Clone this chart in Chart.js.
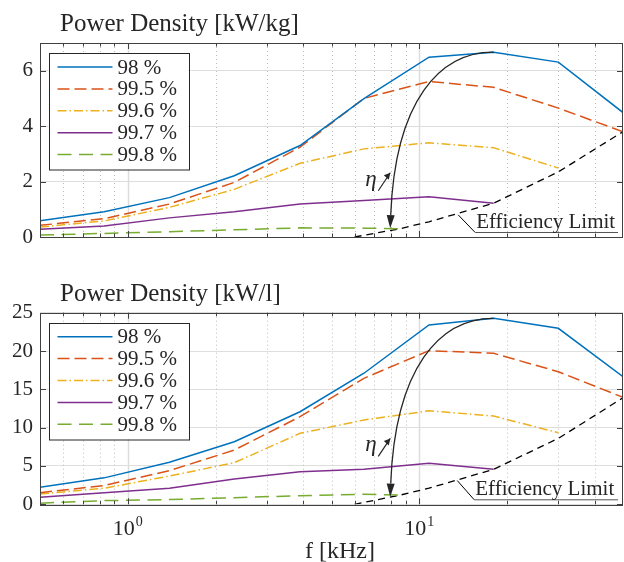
<!DOCTYPE html>
<html>
<head>
<meta charset="utf-8">
<script src="https://cdn.jsdelivr.net/npm/chart.js@4.4.0/dist/chart.umd.min.js"></script>
<style>
  html, body { margin: 0; padding: 0; background: #fff; }
  #wrap { position: relative; width: 624px; height: 562px; }
  #wrap canvas { position: absolute; left: 0; }
  #massChart { top: 0; }
  #volChart { top: 260px; }
</style>
</head>
<body>
<div id="wrap">
  <canvas id="massChart" width="624" height="260"></canvas>
  <canvas id="volChart" width="624" height="302"></canvas>
</div>
<script>
// switching frequency [kHz]
const freq = [0.5, 0.83, 1.39, 2.32, 3.9, 6.46, 10.8, 18, 30, 50];
const freq998 = [0.5, 0.83, 1.39, 2.32, 3.9, 6.46, 8.6];
const limitFreq = [6.0, 8.6, 10.8, 18, 30, 50];
const labels = ['98 %', '99.5 %', '99.6 %', '99.7 %', '99.8 %'];

// power density [kW/kg]
const kg980 = [0.59, 0.91, 1.42, 2.21, 3.30, 4.99, 6.49, 6.67, 6.31, 4.49];
const kg995 = [0.42, 0.66, 1.19, 1.97, 3.24, 5.00, 5.61, 5.40, 4.65, 3.80];
const kg996 = [0.36, 0.58, 1.07, 1.72, 2.66, 3.18, 3.40, 3.22, 2.49];
const kg997 = [0.28, 0.40, 0.69, 0.91, 1.19, 1.32, 1.45, 1.22];
const kg998 = [0.07, 0.13, 0.19, 0.26, 0.33, 0.32, 0.30];
const kgLimit = [0, 0.30, 0.55, 1.22, 2.35, 3.80];

// power density [kW/l]
const l980 = [2.22, 3.45, 5.48, 8.17, 12.08, 17.1, 23.4, 24.27, 22.96, 16.65];
const l995 = [1.52, 2.45, 4.39, 7.08, 11.43, 16.44, 20.05, 19.7, 17.3, 13.96];
const l996 = [1.34, 2.10, 3.69, 5.43, 9.26, 11.0, 12.2, 11.52, 9.34];
const l997 = [0.91, 1.50, 2.09, 3.30, 4.26, 4.56, 5.35, 4.57];
const l998 = [0.15, 0.48, 0.62, 0.87, 1.12, 1.30, 1.20];
const lLimit = [0, 1.20, 2.10, 4.57, 8.60, 13.90];

const serif = '"Liberation Serif", "Times New Roman", serif';
const ink = '#262626';
const colors = ['#0072BD', '#D95319', '#EDB120', '#7E2F8E', '#77AC30'];
const dashes = [[], [12, 5], [9, 3, 1.5, 3], [], [14, 7.5]];
const xGrid = [0.6, 0.7, 0.8, 0.9, 1, 2, 3, 4, 5, 6, 7, 8, 9, 10, 20, 30, 40];

function series(xs, ys) {
    return ys.map((v, i) => ({ x: xs[i], y: v }));
}

function makeDatasets(sets, limit) {
    const xsList = [freq, freq, freq, freq, freq998];
    const ds = sets.map((ys, i) => ({
        label: labels[i],
        data: series(xsList[i], ys),
        borderColor: colors[i],
        borderDash: dashes[i],
        borderWidth: 1.5,
        pointRadius: 0,
        showLine: true,
        fill: false
    }));
    ds.push({
        label: '',
        data: series(limitFreq, limit),
        borderColor: '#000',
        borderDash: [7, 5],
        borderWidth: 1.3,
        pointRadius: 0,
        showLine: true,
        fill: false
    });
    return ds;
}

// MATLAB-like frame, legend and annotations
function framePlugin(cfg) {
    return {
        id: 'frame',
        beforeDatasetsDraw(chart) {
            const { ctx, chartArea: a, scales: { x } } = chart;
            ctx.save();
            xGrid.forEach(v => {
                const px = Math.round(x.getPixelForValue(v)) + 0.5;
                const major = (v === 1 || v === 10);
                ctx.strokeStyle = major ? '#dcdcdc' : '#bdbdbd';
                ctx.lineWidth = major ? 1.5 : 1;
                ctx.setLineDash(major ? [] : [1, 3]);
                ctx.beginPath();
                ctx.moveTo(px, a.top);
                ctx.lineTo(px, a.bottom);
                ctx.stroke();
            });
            ctx.restore();
        },
        afterDatasetsDraw(chart) {
            const { ctx, chartArea: a, scales: { x, y } } = chart;
            const P = (p) => [x.getPixelForValue(p[0]), y.getPixelForValue(p[1])];
            ctx.save();

            // curved arrow
            const [p0, p1, p2, p3] = cfg.arrow.map(P);
            const dx = p3[0] - p2[0], dy = p3[1] - p2[1];
            const len = Math.hypot(dx, dy);
            const ux = dx / len, uy = dy / len;
            const hl = 13, hw = 4;
            const base = [p3[0] - ux * hl, p3[1] - uy * hl];
            ctx.strokeStyle = '#262626';
            ctx.lineWidth = 1.3;
            ctx.beginPath();
            ctx.moveTo(p0[0], p0[1]);
            ctx.bezierCurveTo(p1[0], p1[1], p2[0], p2[1], base[0], base[1]);
            ctx.stroke();
            ctx.fillStyle = '#262626';
            ctx.beginPath();
            ctx.moveTo(p3[0], p3[1]);
            ctx.lineTo(base[0] - uy * hw, base[1] + ux * hw);
            ctx.lineTo(base[0] + uy * hw, base[1] - ux * hw);
            ctx.closePath();
            ctx.fill();

            // eta label
            const e = P(cfg.eta);
            ctx.font = 'italic 23px ' + serif;
            ctx.fillStyle = ink;
            ctx.textAlign = 'left';
            ctx.textBaseline = 'alphabetic';
            ctx.fillText('\u03b7', e[0], e[1]);
            const t0 = [e[0] + 13, e[1] + 5], t1 = [e[0] + 25, e[1] - 13];
            ctx.lineWidth = 1.2;
            ctx.beginPath();
            ctx.moveTo(t0[0], t0[1]);
            ctx.lineTo(t1[0], t1[1]);
            ctx.stroke();
            ctx.beginPath();
            ctx.moveTo(t1[0], t1[1]);
            ctx.lineTo(t1[0] - 6.5, t1[1] + 2.5);
            ctx.lineTo(t1[0] - 1.5, t1[1] + 7);
            ctx.closePath();
            ctx.fill();

            // efficiency limit label
            const lp = P(cfg.limit);
            const ex = lp[0] + 17, ey = a.bottom - 4.5;
            ctx.strokeStyle = '#000';
            ctx.lineWidth = 1;
            ctx.beginPath();
            ctx.moveTo(lp[0], lp[1]);
            ctx.lineTo(ex, ey);
            ctx.stroke();
            ctx.strokeStyle = '#555';
            ctx.beginPath();
            ctx.moveTo(ex, ey);
            ctx.lineTo(a.right - 5, ey);
            ctx.stroke();
            ctx.font = '21px ' + serif;
            ctx.fillStyle = ink;
            ctx.fillText('Efficiency Limit', ex + 1, a.bottom - 9.5);

            // legend
            const bx = a.left + 8.5, by = a.top + 10, bw = 140, bh = 116.5;
            ctx.fillStyle = '#fff';
            ctx.fillRect(bx, by, bw, bh);
            ctx.strokeStyle = ink;
            ctx.lineWidth = 1;
            ctx.strokeRect(Math.round(bx) + 0.5, Math.round(by) + 0.5, bw, bh);
            chart.data.datasets.forEach((d, i) => {
                if (!d.label) return;
                const ry = by + 14 + i * 21.9;
                ctx.strokeStyle = d.borderColor;
                ctx.lineWidth = d.borderWidth;
                ctx.setLineDash(d.borderDash);
                ctx.beginPath();
                ctx.moveTo(bx + 9, ry);
                ctx.lineTo(bx + 64, ry);
                ctx.stroke();
                ctx.setLineDash([]);
                ctx.fillStyle = ink;
                ctx.font = '21px ' + serif;
                ctx.textBaseline = 'middle';
                ctx.fillText(d.label, bx + 69, ry + 1);
            });
            ctx.restore();
        },
        afterDraw(chart) {
            const { ctx, chartArea: a, scales: { x, y } } = chart;
            ctx.save();
            ctx.strokeStyle = '#404040';
            ctx.lineWidth = 1;
            ctx.setLineDash([]);
            // inward ticks
            ctx.beginPath();
            xGrid.forEach(v => {
                const px = Math.round(x.getPixelForValue(v)) + 0.5;
                const tl = (v === 1 || v === 10) ? 6 : 3.5;
                ctx.moveTo(px, a.bottom); ctx.lineTo(px, a.bottom - tl);
                ctx.moveTo(px, a.top); ctx.lineTo(px, a.top + tl);
            });
            y.ticks.forEach(t => {
                const py = Math.round(y.getPixelForValue(t.value)) + 0.5;
                ctx.moveTo(a.left, py); ctx.lineTo(a.left + 6, py);
                ctx.moveTo(a.right, py); ctx.lineTo(a.right - 6, py);
            });
            ctx.stroke();
            // box
            ctx.strokeRect(Math.round(a.left) + 0.5, Math.round(a.top) + 0.5,
                Math.round(a.width) - 1, Math.round(a.height));

            // title
            ctx.fillStyle = ink;
            ctx.textAlign = 'left';
            ctx.textBaseline = 'alphabetic';
            ctx.font = '25px ' + serif;
            ctx.fillText(cfg.title, a.left + 20, a.top - 12);

            // x tick labels and axis title
            if (cfg.xLabels) {
                [[1, '0'], [10, '1']].forEach(([v, p]) => {
                    const px = x.getPixelForValue(v);
                    ctx.font = '22px ' + serif;
                    const w1 = ctx.measureText('10').width;
                    ctx.font = '14px ' + serif;
                    const w2 = ctx.measureText(p).width;
                    const left = px - (w1 + w2 + 1) / 2;
                    ctx.font = '22px ' + serif;
                    ctx.fillText('10', left, a.bottom + 31);
                    ctx.font = '14px ' + serif;
                    ctx.fillText(p, left + w1 + 1, a.bottom + 22);
                });
                ctx.font = '24px ' + serif;
                ctx.textAlign = 'center';
                ctx.fillText('f [kHz]', 340, a.bottom + 54);
            }
            ctx.restore();
        }
    };
}

function makeChart(id, sets, limit, yMax, yStep, padTop, xHeight, cfg) {
    return new Chart(document.getElementById(id), {
        type: 'scatter',
        data: { datasets: makeDatasets(sets, limit) },
        options: {
            responsive: false,
            animation: false,
            layout: { padding: { top: padTop, left: 0, right: 1, bottom: 0 } },
            plugins: { legend: { display: false }, tooltip: { enabled: false } },
            scales: {
                x: {
                    type: 'logarithmic',
                    min: 0.5,
                    max: 50,
                    grid: { display: false },
                    border: { display: false },
                    ticks: { display: false },
                    afterFit: (s) => { s.height = xHeight; }
                },
                y: {
                    min: 0,
                    max: yMax,
                    grid: { color: '#dedede', lineWidth: 1, drawTicks: false },
                    border: { display: false },
                    ticks: {
                        stepSize: yStep,
                        padding: 7,
                        color: ink,
                        font: { family: serif, size: 21 },
                        callback: (v) => (v % yStep === 0 ? v : '')
                    },
                    afterFit: (s) => { s.width = 40; }
                }
            }
        },
        plugins: [framePlugin(cfg)]
    });
}

makeChart('massChart', [kg980, kg995, kg996, kg997, kg998], kgLimit, 7, 2, 43, 23, {
    title: 'Power Density [kW/kg]',
    arrow: [[18, 6.67], [11.8, 6.68], [8.27, 4.94], [7.95, 0.32]],
    eta: [6.53, 1.85],
    limit: [13.6, 0.8],
    xLabels: false
});

makeChart('volChart', [l980, l995, l996, l997, l998], lLimit, 25, 5, 52.7, 57.7, {
    title: 'Power Density [kW/l]',
    arrow: [[18, 24.27], [11.8, 24.3], [8.27, 17.9], [7.95, 1.0]],
    eta: [6.53, 6.9],
    limit: [13.5, 3.1],
    xLabels: true
});
</script>
</body>
</html>
